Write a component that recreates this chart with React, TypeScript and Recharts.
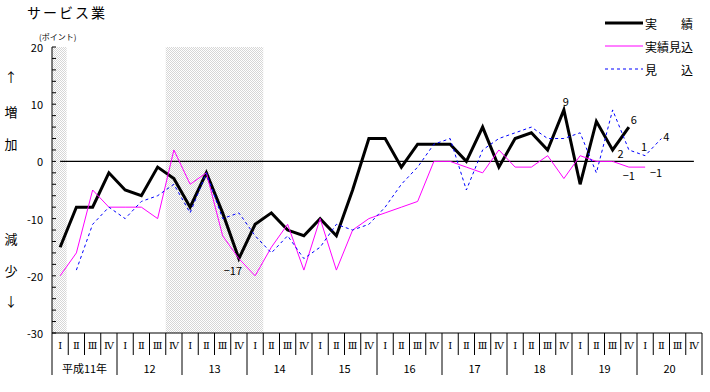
import { LineChart, Line, XAxis, YAxis, ReferenceArea, ReferenceLine, LabelList } from "recharts";

// 平成11年 I 期 〜 平成20年 IV 期
const years = ["平成11年", "12", "13", "14", "15", "16", "17", "18", "19", "20"];
const quarters = ["Ⅰ", "Ⅱ", "Ⅲ", "Ⅳ"];

// 実績
const jisseki = [
  -15, -8, -8, -2, -5, -6, -1, -3, -8, -2,
  -9, -17, -11, -9, -12, -13, -10, -13, -5, 4,
  4, -1, 3, 3, 3, 0, 6, -1, 4, 5,
  2, 9, -4, 7, 2, 6,
];
// 実績見込
const jissekiMikomi = [
  -20, -16, -5, -8, -8, -8, -10, 2, -4, -2,
  -13, -17, -20, -15, -11, -19, -10, -19, -12, -10,
  -9, -8, -7, 0, 0, -1, -2, 2, -1, -1,
  1, -3, 1, 0, 0, -1, -1,
];
// 見込
const mikomi = [
  null, -19, -11, -8, -10, -7, -6, -4, -9, -2,
  -10, -9, -13, -16, -13, -17, -15, -11, -12, -11,
  -8, -4, -1, 3, 4, -5, 2, 4, 5, 6,
  4, 4, 5, -2, 9, 2, 1, 4,
];

// 景気後退期 (quarter index range)
const recessions = [
  [0, 0.9],
  [7, 13],
];

const yTicks = [-30, -28, -26, -24, -22, -20, -18, -16, -14, -12, -10, -8, -6, -4, -2, 0, 2, 4, 6, 8, 10, 12, 14, 16, 18, 20];

const data = years.flatMap((_, yi) =>
  quarters.map((_, qi) => {
    const i = yi * 4 + qi;
    return {
      x: i + 0.5,
      jisseki: jisseki[i] ?? null,
      jissekiMikomi: jissekiMikomi[i] ?? null,
      mikomi: mikomi[i] ?? null,
    };
  })
);

const FONT = '"Noto Sans CJK JP", "Noto Sans", sans-serif';
const W = 710;
const H = 392;
const M = { top: 47, right: 8, bottom: 0, left: 0 };
const Y_AXIS_W = 52;
const X_AXIS_H = 59;
const BAND = (W - Y_AXIS_W - M.right) / 40;

const series = [
  { key: "jisseki", name: "実　　績", color: "#000000", width: 3, dash: undefined as string | undefined },
  { key: "jissekiMikomi", name: "実績見込", color: "#ff00ff", width: 1, dash: undefined },
  { key: "mikomi", name: "見　　込", color: "#0000ff", width: 1, dash: "3 3" },
];

// value labels: index -> [dx, dy]
const notes: Record<string, Record<number, [number, number]>> = {
  jisseki: { 11: [-6, 11], 31: [2, -9], 34: [8, 3], 35: [5, -8] },
  jissekiMikomi: { 35: [0, 8], 36: [11, 5] },
  mikomi: { 36: [-1, -10], 37: [5, -3] },
};

const noteLabel = (key: string) => (props: any) => {
  const off = notes[key][props.index];
  if (!off || props.value == null) return null;
  return (
    <text
      x={props.x + off[0]}
      y={props.y + off[1]}
      textAnchor="middle"
      dominantBaseline="central"
      fontSize={11}
      fontFamily={FONT}
      fill="#000"
    >
      {String(props.value).replace("-", "\u2212")}
    </text>
  );
};

const QuarterTick = (props: any) => {
  const { x, y, payload } = props;
  const i = Math.round(payload.value - 0.5);
  const half = BAND / 2;
  const yearStart = i % 4 === 0;
  return (
    <g fontFamily={FONT} fontSize={11} fill="#000">
      <line x1={x - half} x2={x - half} y1={y} y2={y + (yearStart ? 42 : 22)} stroke="#000" />
      {i === 39 && <line x1={x + half} x2={x + half} y1={y} y2={y + 42} stroke="#000" />}
      <text
        x={x}
        y={y + 12}
        textAnchor="middle"
        dominantBaseline="central"
        fontFamily='"DejaVu Serif", "Liberation Serif", serif'
        fontSize={10}
      >
        {quarters[i % 4]}
      </text>
      {i % 4 === 1 && (
        <text x={x + half} y={y + 35} textAnchor="middle" dominantBaseline="central">
          {years[Math.floor(i / 4)]}
        </text>
      )}
    </g>
  );
};

const ValueTick = (props: any) => {
  const { x, y, payload } = props;
  const v = payload.value;
  return (
    <g>
      <line x1={x} x2={x + 4} y1={y} y2={y} stroke="#000" />
      {v % 10 === 0 && (
        <text x={x - 9} y={y} textAnchor="end" dominantBaseline="central" fontSize={11} fontFamily={FONT} fill="#000">
          {v}
        </text>
      )}
    </g>
  );
};

const sideText = [
  { t: "↑", y: 76 },
  { t: "増", y: 111 },
  { t: "加", y: 143 },
  { t: "減", y: 238 },
  { t: "少", y: 270 },
  { t: "↓", y: 300 },
];

export default function App() {
  return (
    <div style={{ position: "absolute", left: 0, top: 0, width: W, height: H, background: "#fff" }}>
      <LineChart width={W} height={H} data={data} margin={M}>
        <defs>
          <pattern id="dots" width="2" height="2" patternUnits="userSpaceOnUse">
            <rect x="0" y="0" width="1" height="1" fill="#d6d6d6" />
            <rect x="1" y="1" width="1" height="1" fill="#d6d6d6" />
          </pattern>
        </defs>
        {recessions.map(([a, b], k) => (
          <ReferenceArea key={k} x1={a} x2={b} y1={-30} y2={20} fill="url(#dots)" fillOpacity={1} stroke="none" />
        ))}
        <XAxis
          dataKey="x"
          type="number"
          domain={[0, 40]}
          ticks={data.map((d) => d.x)}
          interval={0}
          tick={<QuarterTick />}
          tickLine={false}
          tickSize={0}
          tickMargin={0}
          axisLine={{ stroke: "#000" }}
          height={X_AXIS_H}
        />
        <YAxis
          type="number"
          domain={[-30, 20]}
          ticks={yTicks}
          interval={0}
          tick={<ValueTick />}
          tickLine={false}
          tickSize={0}
          tickMargin={0}
          axisLine={{ stroke: "#000" }}
          width={Y_AXIS_W}
        />
        <ReferenceLine
          segment={[
            { x: data[0].x, y: 0 },
            { x: data[data.length - 1].x, y: 0 },
          ]}
          stroke="#000"
          strokeWidth={1.2}
        />
        {series.map((s) => (
          <Line
            key={s.key}
            dataKey={s.key}
            stroke={s.color}
            strokeWidth={s.width}
            strokeDasharray={s.dash}
            dot={false}
            activeDot={false}
            type="linear"
            isAnimationActive={false}
            strokeLinejoin="miter"
          >
            <LabelList dataKey={s.key} content={noteLabel(s.key)} />
          </Line>
        ))}
      </LineChart>
      <svg
        width={W}
        height={H}
        style={{ position: "absolute", left: 0, top: 0, pointerEvents: "none" }}
        fontFamily={FONT}
      >
        <text x={27} y={12} fontSize={14} letterSpacing={2} dominantBaseline="central">
          サービス業
        </text>
        <text x={39} y={36} fontSize={8} dominantBaseline="central">
          (ポイント)
        </text>
        {sideText.map((s) => (
          <text key={s.t} x={11} y={s.y} fontSize={13} textAnchor="middle" dominantBaseline="central">
            {s.t}
          </text>
        ))}
        {series.map((s, k) => (
          <g key={s.key}>
            <line
              x1={605}
              x2={643}
              y1={23 + k * 23}
              y2={23 + k * 23}
              stroke={s.color}
              strokeWidth={s.width}
              strokeDasharray={s.dash}
            />
            <text x={645} y={23 + k * 23} fontSize={12} dominantBaseline="central">
              {s.name}
            </text>
          </g>
        ))}
      </svg>
    </div>
  );
}
